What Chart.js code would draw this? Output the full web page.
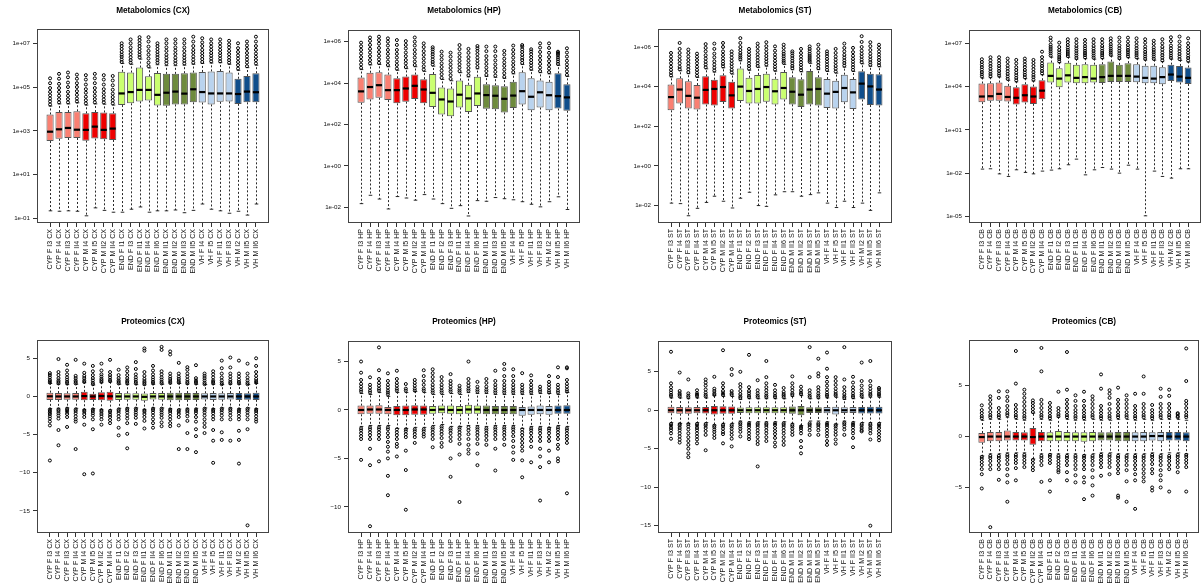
<!DOCTYPE html>
<html><head><meta charset="utf-8">
<script src="https://cdn.jsdelivr.net/npm/chart.js@4.4.1/dist/chart.umd.min.js"></script>
<style>
html,body{margin:0;padding:0;background:#fff;width:1202px;height:584px;overflow:hidden;position:relative}
canvas{position:absolute}
</style></head><body>
<script>
// ---------------- Metabolomics (CX) ----------------
const metCxLabels = ['CYP F I3 CX','CYP F I4 CX','CYP F II3 CX','CYP F II4 CX','CYP M I4 CX','CYP M I5 CX','CYP M II2 CX','CYP M II4 CX','END F I1 CX','END F I3 CX','END F II1 CX','END F II4 CX','END F II6 CX','END M II1 CX','END M II2 CX','END M II3 CX','END M II5 CX','VH F I4 CX','VH F I5 CX','VH F II1 CX','VH F II3 CX','VH M I2 CX','VH M II5 CX','VH M II6 CX'];
const metCxGroups = [4,4,5,4,4,3];
const metCxQ1 = [340,430,470,470,355,440,410,380,1.5e4,1.8e4,2.2e4,2.4e4,1.45e4,1.4e4,1.6e4,1.6e4,2e4,1.95e4,1.6e4,2.1e4,2.2e4,1.7e4,2e4,2e4];
const metCxMed = [910,1170,1350,1120,1100,1550,1100,1260,5.1e4,5.9e4,7.4e4,7.4e4,4.4e4,5.5e4,6.2e4,5e4,7.9e4,5.9e4,5.1e4,5.1e4,5.1e4,4.8e4,6.2e4,5.8e4];
const metCxQ3 = [5.6e3,7.2e3,7.2e3,7.8e3,6.3e3,7.2e3,6.9e3,6.3e3,5e5,4.6e5,7.8e5,3.1e5,4.4e5,4e5,4e5,4.3e5,4.6e5,4.9e5,5.2e5,5.4e5,4.6e5,2.4e5,3.2e5,4.3e5];
const metCxLo = [0.22,0.21,0.22,0.21,0.13,0.3,0.23,0.19,0.19,0.26,0.33,0.19,0.22,0.22,0.24,0.18,0.23,0.45,0.26,0.22,0.17,0.21,0.14,0.45];
const metCxHi = [1.35e4,1.7e4,1.7e4,1.9e4,1.5e4,1.7e4,1.65e4,1.5e4,1.2e6,1.1e6,1.9e6,7.5e5,1.05e6,9.5e5,9.5e5,1e6,1.1e6,1.2e6,1.25e6,1.3e6,1.1e6,5.8e5,7.7e5,1e6];
const metCxOut = [
 [1.6e4,2.2e4,3e4,4.2e4,6e4,9e4,1.5e5,2.5e5],[2e4,2.8e4,4e4,6e4,9e4,1.4e5,2.4e5,4e5],[2e4,2.8e4,4e4,6e4,1e5,1.6e5,2.8e5,4.6e5],[2.2e4,3e4,4.4e4,6.5e4,1e5,1.5e5,2.4e5,3.7e5],
 [1.8e4,2.5e4,3.6e4,5.5e4,8e4,1.3e5,2.2e5,3.5e5],[2e4,2.8e4,4e4,6e4,9e4,1.5e5,2.5e5,4e5],[2e4,2.7e4,3.8e4,5.5e4,8e4,1.3e5,2.2e5,3.5e5],[1.8e4,2.5e4,3.5e4,5e4,7.5e4,1.2e5,2e5,3.2e5],
 [1.4e6,1.8e6,2.4e6,3e6,4e6,5.5e6,7.5e6,1e7],[1.3e6,1.7e6,2.3e6,3.2e6,4.5e6,6.5e6,1e7,1.5e7],[2.3e6,3e6,4e6,5.5e6,7.5e6,1e7,1.4e7,1.9e7],[9e5,1.3e6,2e6,3e6,4.5e6,7e6,1.2e7,1.9e7],
 [1.3e6,1.7e6,2.3e6,3e6,4e6,5.5e6,7.5e6,1e7],[1.2e6,1.6e6,2.2e6,3e6,4.5e6,6.5e6,1e7,1.5e7],[1.2e6,1.6e6,2.2e6,3.2e6,4.6e6,6.5e6,1e7,1.5e7],[1.2e6,1.6e6,2.2e6,3e6,4.4e6,6.5e6,1e7,1.5e7],
 [1.3e6,1.8e6,2.5e6,3.6e6,5e6,7.5e6,1.2e7,2e7],[1.4e6,1.9e6,2.6e6,3.6e6,5e6,7.5e6,1.1e7,1.7e7],[1.5e6,2e6,2.7e6,3.6e6,5e6,7e6,1e7,1.5e7],[1.5e6,2e6,2.7e6,3.6e6,5e6,7e6,1e7,1.5e7],
 [1.3e6,1.7e6,2.3e6,3.2e6,4.5e6,6.5e6,9e6,1.3e7],[7e5,1e6,1.4e6,2e6,2.8e6,4e6,6e6,1e7],[9e5,1.3e6,1.8e6,2.5e6,3.6e6,5.5e6,8e6,1.2e7],[1.2e6,1.7e6,2.4e6,3.4e6,5e6,7.5e6,1.2e7,2e7]];
const metCxTicks = [1e-1,1e1,1e3,1e5,1e7];

// ---------------- Metabolomics (HP) ----------------
const metHpLabels = ['CYP F I3 HP','CYP F I4 HP','CYP F II3 HP','CYP F II4 HP','CYP M I4 HP','CYP M I5 HP','CYP M II2 HP','CYP M II4 HP','END F I1 HP','END F I2 HP','END F I3 HP','END F II1 HP','END F II4 HP','END F II6 HP','END M II1 HP','END M II3 HP','END M II5 HP','VH F I4 HP','VH F I5 HP','VH F II1 HP','VH F II3 HP','VH M I2 HP','VH M II5 HP','VH M II6 HP'];
const metHpGroups = [4,4,6,4,4,2];
const metHpQ1 = [1.12e3,1.62e3,1.95e3,1.51e3,1.05e3,1.26e3,1.7e3,1.05e3,710,300,250,660,400,780,575,550,380,620,930,490,660,490,590,457];
const metHpMed = [3.98e3,6.46e3,7.94e3,4.57e3,4.57e3,5.5e3,7.4e3,4.9e3,3.39e3,1.62e3,1.29e3,2.75e3,1.82e3,3.16e3,2.63e3,2.45e3,1.74e3,2.5e3,4.07e3,2.19e3,3.6e3,2.6e3,2.34e3,2.04e3];
const metHpQ3 = [1.86e4,3.16e4,3.3e4,2.6e4,1.74e4,2.1e4,2.6e4,1.55e4,2.75e4,6.2e3,5.5e3,1.35e4,8.3e3,2.04e4,8.9e3,7.9e3,7.1e3,1.15e4,3.3e4,1.74e4,1.35e4,1.15e4,3e4,8.7e3];
const metHpLo = [0.015,0.038,0.025,0.0083,0.033,0.028,0.022,0.041,0.025,0.015,0.0089,0.012,0.0038,0.021,0.0195,0.0295,0.026,0.023,0.0186,0.014,0.0105,0.0186,0.032,0.0078];
const metHpHi = [4.5e4,7.6e4,7.9e4,6.2e4,4.2e4,5e4,6.2e4,3.7e4,6.6e4,1.5e4,1.3e4,3.2e4,2e4,4.9e4,2.1e4,1.9e4,1.7e4,2.8e4,7.9e4,4.2e4,3.2e4,2.8e4,7.2e4,2.1e4];
const metHpOut = [
 [5.5e4,8e4,1.2e5,1.8e5,2.7e5,4e5,6e5,9e5],[9e4,1.3e5,2e5,3e5,4.5e5,7e5,1.1e6,1.6e6],[9.5e4,1.4e5,2.1e5,3.2e5,5e5,8e5,1.2e6,1.75e6],[7.5e4,1.1e5,1.7e5,2.6e5,4e5,6.5e5,1e6,1.45e6],
 [5e4,7.5e4,1.1e5,1.7e5,2.6e5,4e5,7e5,1.2e6],[6e4,9e4,1.3e5,2e5,3e5,4.7e5,7e5,1.07e6],[7.5e4,1.1e5,1.7e5,2.6e5,4e5,6.5e5,1e6,1.6e6],[4.5e4,6.5e4,1e5,1.5e5,2.3e5,3.5e5,5.5e5,8.3e5],
 [8e4,1.05e5,1.4e5,1.9e5,2.5e5,3.3e5,4.3e5,5.4e5],[1.8e4,2.7e4,4e4,6e4,9e4,1.4e5,2.1e5,3.3e5],[1.6e4,2.4e4,3.6e4,5.4e4,8e4,1.2e5,1.9e5,2.95e5],[3.8e4,5.6e4,8.2e4,1.2e5,1.8e5,2.7e5,4.4e5,6.9e5],
 [2.4e4,3.6e4,5.3e4,8e4,1.2e5,1.8e5,2.9e5,4.5e5],[5.9e4,8.5e4,1.2e5,1.7e5,2.5e5,3.6e5,4.8e5,6.2e5],[2.5e4,3.8e4,5.6e4,8.5e4,1.3e5,2e5,3.5e5,5.8e5],[2.3e4,3.5e4,5.3e4,8e4,1.25e5,2e5,3.5e5,5.8e5],
 [2e4,3e4,4.5e4,6.8e4,1e5,1.5e5,2.4e5,3.6e5],[3.4e4,5e4,7.5e4,1.1e5,1.7e5,2.6e5,4e5,6.5e5],[9.5e4,1.3e5,1.7e5,2.3e5,3.2e5,4.3e5,5.8e5,6.9e5],[5e4,7e4,9.5e4,1.3e5,1.8e5,2.5e5,3.4e5,4.3e5],
 [3.8e4,5.6e4,8.5e4,1.3e5,2e5,3.2e5,5.2e5,8.3e5],[3.4e4,5e4,7.5e4,1.15e5,1.8e5,2.9e5,5e5,8.3e5],[8.5e4,1.1e5,1.4e5,1.75e5,2.2e5,2.6e5,3e5,3.3e5],[2.5e4,3.7e4,5.5e4,8e4,1.2e5,1.9e5,3e5,4.8e5]];
const metHpTicks = [1e-2,1,1e2,1e4,1e6];

// ---------------- Metabolomics (ST) ----------------
const metStLabels = ['CYP F I3 ST','CYP F I4 ST','CYP F II3 ST','CYP F II4 ST','CYP M I4 ST','CYP M I5 ST','CYP M II2 ST','CYP M II4 ST','END F I1 ST','END F I2 ST','END F I3 ST','END F II1 ST','END F II4 ST','END F II6 ST','END M II1 ST','END M II2 ST','END M II3 ST','END M II5 ST','VH F I4 ST','VH F I5 ST','VH F II1 ST','VH F II3 ST','VH M I2 ST','VH M II5 ST','VH M II6 ST'];
const metStGroups = [4,4,6,4,4,3];
const metStQ1 = [630,1.41e3,780,690,1.23e3,1.1e3,1.66e3,780,1.86e3,1.38e3,1.38e3,1.74e3,1.26e3,2.2e3,1.26e3,930,1.26e3,1.1e3,830,780,1.62e3,740,2.2e3,1.17e3,1.12e3];
const metStMed = [2.95e3,7.1e3,3.4e3,2.75e3,6.8e3,7.6e3,9.5e3,3.6e3,1e4,6e3,7.6e3,9.5e3,5.8e3,8.5e3,5.5e3,3.9e3,7.1e3,7.6e3,4.4e3,5.4e3,8.5e3,5.1e3,1.41e4,1.02e4,7.1e3];
const metStQ3 = [1.29e4,2.63e4,1.86e4,1.2e4,3.3e4,2.24e4,3.7e4,1.78e4,8.3e4,2.8e4,3.9e4,4.5e4,2.5e4,5.5e4,2.95e4,2.34e4,6.2e4,3e4,2.4e4,2e4,4e4,2.4e4,5.9e4,4.4e4,4.2e4];
const metStLo = [0.013,0.0123,0.003,0.0071,0.0141,0.029,0.0162,0.0074,0.023,0.046,0.0098,0.0089,0.034,0.049,0.049,0.029,0.035,0.043,0.013,0.0078,0.0162,0.0078,0.013,0.0056,0.043];
const metStHi = [3.1e4,6.3e4,4.5e4,2.9e4,7.9e4,5.4e4,8.9e4,4.3e4,2e5,6.7e4,9.4e4,1.08e5,6e4,1.32e5,7.1e4,5.6e4,1.5e5,7.2e4,5.8e4,4.8e4,9.6e4,5.8e4,1.42e5,1.06e5,1e5];
const metStOut = [
 [3.7e4,5e4,7e4,1e5,1.5e5,2.2e5,3.3e5,5e5],[7.5e4,1e5,1.5e5,2.2e5,3.3e5,5e5,8e5,1.6e6],[5.4e4,7.5e4,1.05e5,1.5e5,2.2e5,3.3e5,5e5,7.4e5],[3.5e4,5e4,7e4,1e5,1.5e5,2.2e5,3.2e5,4.6e5],
 [9.5e4,1.3e5,1.8e5,2.6e5,3.8e5,6e5,9e5,1.4e6],[6.5e4,9e4,1.3e5,1.9e5,3e5,4.6e5,8e5,1.48e6],[1.05e5,1.4e5,1.9e5,2.7e5,4e5,6e5,1e6,1.6e6],[5.2e4,7e4,1e5,1.4e5,2e5,2.9e5,4.2e5,6e5],
 [2.4e5,3e5,3.8e5,5e5,7e5,1e6,1.6e6,2.8e6],[8e4,1.1e5,1.5e5,2.1e5,2.9e5,4e5,5.7e5,8e5],[1.1e5,1.5e5,2.1e5,3e5,4.3e5,6.5e5,1e6,1.48e6],[1.3e5,1.8e5,2.5e5,3.5e5,5e5,7.5e5,1.1e6,1.74e6],
 [7.2e4,1e5,1.4e5,2e5,2.9e5,4.2e5,6.5e5,1.07e6],[1.6e5,2e5,2.6e5,3.4e5,4.5e5,6e5,9e5,1.3e6],[8.5e4,1.1e5,1.5e5,2e5,2.7e5,3.6e5,4.8e5,6e5],[6.7e4,9e4,1.25e5,1.7e5,2.4e5,3.4e5,5e5,8e5],
 [1.8e5,2.2e5,2.8e5,3.5e5,4.5e5,6e5,8e5,1.07e6],[8.6e4,1.2e5,1.7e5,2.4e5,3.5e5,5.2e5,8e5,1.3e6],[7e4,9.5e4,1.3e5,1.8e5,2.5e5,3.4e5,4.6e5,6e5],[5.8e4,8e4,1.1e5,1.6e5,2.3e5,3.3e5,5e5,8e5],
 [1.15e5,1.55e5,2.1e5,2.9e5,4e5,6e5,9e5,1.48e6],[7e4,9.5e4,1.3e5,1.8e5,2.5e5,3.6e5,5.5e5,9e5],[1.7e5,2.3e5,3.2e5,4.5e5,6.5e5,1e6,1.8e6,3.5e6],[1.27e5,1.7e5,2.3e5,3.2e5,4.6e5,7e5,1.1e6,1.74e6],
 [1.2e5,1.6e5,2.2e5,3e5,4.2e5,6e5,9e5,1.3e6]];
const metStTicks = [1e-2,1,1e2,1e4,1e6];

// ---------------- Metabolomics (CB) ----------------
const metCbLabels = ['CYP F I3 CB','CYP F I4 CB','CYP F II3 CB','CYP F II4 CB','CYP M I4 CB','CYP M I5 CB','CYP M II2 CB','CYP M II4 CB','END F I1 CB','END F I2 CB','END F I3 CB','END F II1 CB','END F II4 CB','END F II6 CB','END M II1 CB','END M II2 CB','END M II3 CB','END M II5 CB','VH F I4 CB','VH F I5 CB','VH F II1 CB','VH F II3 CB','VH M I2 CB','VH M II5 CB','VH M II6 CB'];
const metCbGroups = [4,4,6,4,4,3];
const metCbQ1 = [830,1.02e3,1.02e3,910,560,780,630,1.32e3,1.9e4,8.9e3,1.9e4,1.7e4,1.7e4,1.9e4,1.78e4,2.1e4,2.1e4,2.1e4,2e4,1.7e4,1.7e4,1.45e4,2.45e4,1.9e4,1.5e4];
const metCbMed = [2.04e3,2.14e3,3.1e3,1.9e3,1.66e3,2.5e3,2.04e3,5.2e3,5.5e4,3.55e4,6e4,4e4,4.5e4,3.55e4,4.5e4,5.5e4,5.5e4,5.5e4,4.9e4,4e4,3.55e4,4.5e4,6.8e4,4.9e4,4e4];
const metCbQ3 = [1.62e4,1.7e4,1.9e4,1.12e4,8.9e3,1.45e4,1e4,2.75e4,4.6e5,1.86e5,4.4e5,3.2e5,3.55e5,3.3e5,3.55e5,5.4e5,3.2e5,4.2e5,3.55e5,2.8e5,2.8e5,2.2e5,3.3e5,2.7e5,2.1e5];
const metCbLo = [0.019,0.02,0.0089,0.0059,0.017,0.0112,0.0089,0.0138,0.0162,0.02,0.038,0.093,0.0076,0.017,0.0245,0.019,0.01,0.0355,0.019,1.1e-5,0.0138,0.0059,0.0045,0.02,0.02];
const metCbHi = [3.9e4,4.1e4,4.6e4,2.7e4,2.1e4,3.5e4,2.4e4,6.6e4,1.1e6,4.5e5,1.06e6,7.7e5,8.5e5,7.9e5,8.5e5,1.3e6,7.7e5,1e6,8.5e5,6.7e5,6.7e5,5.3e5,7.9e5,6.5e5,5e5];
const metCbOut = [
 [5e4,7e4,1e5,1.5e5,2.2e5,3.3e5,5e5,7.8e5],[5.2e4,7.5e4,1.1e5,1.7e5,2.6e5,4e5,6.5e5,1.07e6],[5.8e4,8e4,1.2e5,1.8e5,2.7e5,4.1e5,6.5e5,1.07e6],[3.4e4,5e4,7.5e4,1.15e5,1.8e5,2.8e5,5e5,8.7e5],
 [2.7e4,4e4,6e4,9e4,1.4e5,2.2e5,4e5,7e5],[4.4e4,6.5e4,9.5e4,1.4e5,2.2e5,3.4e5,5.5e5,8.7e5],[3e4,4.5e4,6.5e4,1e5,1.6e5,2.6e5,4.3e5,7e5],[8.2e4,1.2e5,1.8e5,2.7e5,4e5,6.5e5,1.1e6,2.6e6],
 [1.4e6,2e6,2.8e6,4e6,5.6e6,8e6,1.5e7,2.45e7],[5.6e5,8e5,1.1e6,1.6e6,2.3e6,3.4e6,5.5e6,1.1e7],[1.3e6,1.8e6,2.5e6,3.5e6,5e6,7.5e6,1.2e7,1.9e7],[9.6e5,1.4e6,2e6,3e6,4.4e6,6.5e6,1.1e7,1.9e7],
 [1.06e6,1.5e6,2.1e6,3e6,4.3e6,6.2e6,1e7,1.7e7],[1e6,1.4e6,2e6,2.9e6,4.3e6,6.5e6,1.1e7,1.9e7],[1.06e6,1.5e6,2.1e6,3e6,4.4e6,6.5e6,1.1e7,1.9e7],[1.6e6,2.2e6,3e6,4.2e6,6e6,8.5e6,1.4e7,2.2e7],
 [9.6e5,1.4e6,2e6,3e6,4.5e6,7e6,1.3e7,2.45e7],[1.25e6,1.7e6,2.4e6,3.4e6,5e6,7.5e6,1.3e7,2.45e7],[1.06e6,1.5e6,2.1e6,3e6,4.5e6,7e6,1.2e7,2.2e7],[8.4e5,1.2e6,1.7e6,2.5e6,3.8e6,6e6,1.1e7,1.9e7],
 [8.4e5,1.2e6,1.7e6,2.4e6,3.5e6,5.2e6,9e6,1.5e7],[6.6e5,1e6,1.5e6,2.3e6,3.6e6,5.6e6,1e7,1.9e7],[9.9e5,1.4e6,2e6,3e6,4.5e6,7e6,1.4e7,2.6e7],[8e5,1.2e6,1.8e6,2.8e6,4.3e6,7e6,1.3e7,2.9e7],
 [6.3e5,9.5e5,1.4e6,2.2e6,3.4e6,5.5e6,1e7,2.2e7]];
const metCbTicks = [1e-5,1e-2,1e1,1e4,1e7];

// ---------------- Proteomics (CX) ----------------
const protCxLabels = ['CYP F I3 CX','CYP F I4 CX','CYP F II3 CX','CYP F II4 CX','CYP M I4 CX','CYP M I5 CX','CYP M II2 CX','CYP M II4 CX','END F I1 CX','END F I2 CX','END F I3 CX','END F II1 CX','END F II4 CX','END F II6 CX','END M II1 CX','END M II2 CX','END M II3 CX','END M II5 CX','VH F I4 CX','VH F I5 CX','VH F II1 CX','VH F II3 CX','VH M I2 CX','VH M II5 CX','VH M II6 CX'];
const protCxGroups = [4,4,6,4,4,3];
const protCxQ1 = [-0.45,-0.45,-0.42,-0.42,-0.5,-0.45,-0.5,-0.55,-0.45,-0.42,-0.42,-0.55,-0.4,-0.42,-0.5,-0.5,-0.45,-0.45,-0.4,-0.45,-0.42,-0.4,-0.45,-0.42,-0.45];
const protCxMed = [0.02,0,0,0,0.05,0,0.05,0.02,0,0,0,-0.05,0,0,0,0,0,0,0,0,0,0,0,0,0];
const protCxQ3 = [0.5,0.45,0.42,0.45,0.6,0.35,0.55,0.6,0.45,0.42,0.42,0.4,0.45,0.45,0.48,0.5,0.45,0.45,0.42,0.45,0.42,0.45,0.45,0.42,0.5];
const protCxLo = [-1.6,-1.55,-1.5,-1.55,-1.7,-1.6,-1.7,-1.75,-1.55,-1.5,-1.5,-1.7,-1.5,-1.5,-1.6,-1.65,-1.55,-1.55,-1.5,-1.6,-1.5,-1.5,-1.6,-1.5,-1.6];
const protCxHi = [1.7,1.6,1.55,1.6,1.8,1.5,1.8,1.9,1.6,1.55,1.55,1.5,1.6,1.6,1.65,1.7,1.6,1.6,1.55,1.6,1.55,1.6,1.6,1.55,1.7];
const protCxOut = [
 [1.8,2.0,2.2,2.5,2.8,3.06,-1.7,-1.9,-2.1,-2.3,-2.6,-2.9,-3.3,-3.8,-8.4],[1.7,1.9,2.1,2.4,2.8,3.2,4.9,-1.7,-1.9,-2.2,-2.5,-2.9,-4.4,-6.4],
 [1.7,1.9,2.2,2.5,2.9,3.4,4.15,-1.6,-1.8,-2.0,-2.3,-2.7,-4.0],[1.7,1.9,2.1,2.4,2.7,4.8,-1.7,-1.9,-2.2,-2.6,-3.0,-3.3,-6.9],
 [1.9,2.1,2.4,2.7,3.1,4.3,-1.8,-2.0,-2.3,-2.7,-3.7,-10.2],[1.6,1.8,2.1,2.4,2.8,3.3,4.0,-1.7,-1.9,-2.2,-2.5,-3.0,-4.3,-10.1],
 [1.9,2.1,2.3,2.6,2.9,3.4,4.3,-1.8,-2.0,-2.3,-2.6,-3.0,-3.7],[2.0,2.2,2.5,2.8,3.2,4.8,-1.9,-2.1,-2.4,-2.7,-3.1,-3.5],
 [1.7,1.9,2.1,2.4,2.8,3.5,-1.7,-1.9,-2.2,-2.6,-3.0,-4.1,-5.1],[1.7,1.9,2.1,2.4,2.8,3.3,3.8,-1.6,-1.8,-2.1,-2.5,-2.9,-3.5,-4.9,-6.8],
 [1.7,1.9,2.2,2.5,2.9,3.6,4.5,-1.6,-1.8,-2.1,-2.4,-2.8,-3.6],[1.6,1.8,2.0,2.3,2.7,3.2,6.0,6.3,-1.8,-2.0,-2.3,-2.7,-3.2,-4.2],
 [1.7,1.9,2.2,2.5,2.9,3.4,4.0,-1.6,-1.8,-2.1,-2.5,-3.0,-3.5,-4.1],[1.7,1.9,2.2,2.5,2.9,3.3,6.1,6.5,-1.6,-1.8,-2.1,-2.4,-2.8,-3.4,-3.9],
 [1.8,2.0,2.3,2.6,3.0,5.5,5.9,-1.7,-1.9,-2.2,-2.6,-3.0,-3.5,-3.9],[1.8,2.0,2.3,2.6,3.0,4.4,-1.8,-2.0,-2.3,-2.7,-3.8,-6.9],
 [1.7,1.9,2.2,2.6,3.0,3.5,3.84,-1.7,-1.9,-2.2,-2.6,-3.2,-4.8,-6.9],[1.7,1.9,2.1,2.4,4.1,-1.7,-1.9,-2.2,-2.7,-3.3,-4.3,-5.2,-7.3],
 [1.6,1.8,2.1,2.4,2.7,3.0,-1.6,-1.8,-2.1,-2.5,-3.0,-3.5,-4.0,-4.8],[1.7,1.9,2.1,2.5,2.9,3.3,-1.7,-1.9,-2.2,-2.6,-3.0,-4.4,-5.8,-8.7],
 [1.6,1.8,2.1,2.5,3.0,3.7,4.7,-1.6,-1.8,-2.1,-2.5,-3.0,-4.7,-5.7],[1.7,1.9,2.2,2.6,3.0,3.8,5.1,-1.6,-1.8,-2.1,-2.5,-3.0,-5.8],
 [1.7,1.9,2.2,2.6,3.0,4.7,-1.7,-1.9,-2.2,-2.6,-3.0,-4.5,-5.7,-8.8],[1.6,1.8,2.1,2.5,3.0,4.3,-1.6,-1.8,-2.1,-2.5,-3.0,-4.3,-16.9],
 [1.8,2.0,2.3,2.7,3.2,4.0,5.0,-1.7,-1.9,-2.2,-2.6,-3.0,-3.3]];
const protCxTicks = [-15,-10,-5,0,5];

// ---------------- Proteomics (HP) ----------------
const protHpLabels = ['CYP F I3 HP','CYP F I4 HP','CYP F II3 HP','CYP F II4 HP','CYP M I4 HP','CYP M I5 HP','CYP M II2 HP','CYP M II4 HP','END F I1 HP','END F I2 HP','END F I3 HP','END F II1 HP','END F II4 HP','END F II6 HP','END M II1 HP','END M II3 HP','END M II5 HP','VH F I4 HP','VH F I5 HP','VH F II1 HP','VH F II3 HP','VH M I2 HP','VH M II5 HP','VH M II6 HP'];
const protHpGroups = [4,4,6,4,4,2];
const protHpQ1 = [-0.45,-0.4,-0.4,-0.45,-0.55,-0.55,-0.5,-0.5,-0.4,-0.35,-0.4,-0.45,-0.4,-0.4,-0.45,-0.45,-0.42,-0.45,-0.6,-0.5,-0.45,-0.5,-0.4,-0.4];
const protHpMed = [0,0.05,0.05,0,0,0,0.05,0.05,0,0.05,0,0,0.05,0.05,0,0,0,0,0,0,0,0,0,0];
const protHpQ3 = [0.45,0.45,0.5,0.3,0.42,0.45,0.5,0.45,0.4,0.45,0.45,0.4,0.55,0.45,0.45,0.4,0.42,0.4,0.3,0.35,0.45,0.4,0.45,0.5];
const protHpLo = [-1.7,-1.6,-1.6,-1.6,-1.9,-1.9,-1.8,-1.8,-1.6,-1.5,-1.7,-1.7,-1.6,-1.6,-1.7,-1.6,-1.6,-1.6,-1.9,-1.7,-1.7,-1.8,-1.6,-1.7];
const protHpHi = [1.7,1.6,1.8,1.4,1.8,1.8,1.9,1.8,1.6,1.6,1.7,1.6,1.8,1.7,1.7,1.6,1.6,1.6,1.6,1.6,1.7,1.7,1.6,1.8];
const protHpOut = [
 [1.9,2.1,2.4,2.7,3.1,3.85,5.0,-1.9,-2.1,-2.4,-2.7,-3.0,-5.15],[1.8,2.0,2.3,2.6,3.37,-1.8,-2.0,-2.3,-2.6,-3.0,-4.0,-5.7,-12.0],
 [2.0,2.2,2.5,2.8,3.2,4.1,6.46,-1.8,-2.0,-2.3,-2.6,-3.0,-5.3],[1.6,1.8,2.0,2.3,2.6,3.0,3.78,-1.8,-2.0,-2.4,-2.8,-3.3,-3.8,-4.3,-5.0,-6.8,-8.8],
 [2.0,2.2,2.5,2.8,3.2,4.05,-2.0,-2.3,-2.6,-3.0,-3.5,-3.8,-4.8],[2.0,2.2,2.68,-2.0,-2.2,-2.5,-2.8,-4.2,-6.2,-10.3],
 [2.0,2.2,2.5,2.8,3.1,-2.0,-2.2,-2.5,-2.8,-3.4],[2.0,2.2,2.6,3.0,3.5,4.1,-2.0,-2.2,-2.5,-2.75],
 [1.8,2.0,2.3,2.6,3.0,3.4,3.8,4.2,-1.8,-2.0,-2.3,-2.6,-3.0,-3.85],[1.8,2.0,2.3,2.6,3.0,3.4,-1.7,-1.9,-2.2,-2.5,-2.9,-3.4,-3.8],
 [1.9,2.1,2.4,2.7,3.0,3.7,-1.9,-2.1,-2.4,-2.8,-3.2,-5.0,-6.9],[1.8,2.0,2.2,2.5,-1.8,-2.0,-2.3,-2.6,-3.0,-3.5,-4.6,-9.5],
 [2.0,2.2,2.5,2.8,3.2,5.0,-1.8,-2.1,-2.5,-3.0,-3.6,-4.1,-4.5],[1.9,2.1,2.4,2.9,-1.8,-2.0,-2.3,-2.6,-3.0,-3.5,-4.5,-5.7],
 [1.9,2.1,2.4,2.8,3.2,-1.9,-2.1,-2.4,-2.7,-3.1,-3.6],[1.8,2.0,2.3,2.6,3.0,4.05,-1.8,-2.0,-2.3,-2.6,-3.0,-4.0,-6.25],
 [1.8,2.0,2.3,2.6,3.0,3.5,4.2,4.75,-1.8,-2.0,-2.3,-2.6,-3.0,-3.6],[1.8,2.0,2.3,2.6,3.0,3.5,4.2,-1.8,-2.0,-2.3,-2.7,-3.2,-3.8,-4.4,-5.15],
 [1.8,2.0,2.3,2.6,3.8,-2.0,-2.3,-2.6,-3.0,-3.4,-3.8,-4.2,-5.2,-6.95],[1.8,2.0,2.3,2.6,3.0,3.57,-1.9,-2.1,-2.4,-2.8,-3.2,-3.8,-5.4],
 [1.9,2.1,2.4,-1.9,-2.1,-2.4,-2.8,-3.2,-4.0,-4.8,-5.9,-9.35],[1.8,2.0,2.3,2.6,2.9,3.5,-1.9,-2.1,-2.4,-2.8,-3.2,-4.2,-5.4],
 [1.8,2.0,2.3,2.6,3.4,4.4,-1.8,-2.0,-2.3,-2.6,-3.0,-3.6,-4.0,-5.0,-5.3],[1.9,2.1,2.4,2.7,3.1,4.3,4.4,-1.9,-2.1,-2.4,-2.7,-3.0,-3.4,-8.6]];
const protHpTicks = [-10,-5,0,5];

// ---------------- Proteomics (ST) ----------------
const protStLabels = ['CYP F I3 ST','CYP F I4 ST','CYP F II3 ST','CYP F II4 ST','CYP M I4 ST','CYP M I5 ST','CYP M II2 ST','CYP M II4 ST','END F I1 ST','END F I2 ST','END F I3 ST','END F II1 ST','END F II4 ST','END F II6 ST','END M II1 ST','END M II2 ST','END M II3 ST','END M II5 ST','VH F I4 ST','VH F I5 ST','VH F II1 ST','VH F II3 ST','VH M I2 ST','VH M II5 ST','VH M II6 ST'];
const protStGroups = [4,4,6,4,4,3];
const protStQ1 = [-0.4,-0.45,-0.45,-0.4,-0.42,-0.55,-0.45,-0.45,-0.35,-0.38,-0.38,-0.38,-0.38,-0.38,-0.45,-0.65,-0.35,-0.35,-0.38,-0.55,-0.35,-0.35,-0.42,-0.42,-0.42];
const protStMed = [0,0,0,0,0,0,0,0,0,0,0,0,0,0,0,0,0,0,0,0,0,0,0,0,0];
const protStQ3 = [0.45,0.42,0.38,0.42,0.42,0.55,0.52,0.5,0.35,0.38,0.38,0.38,0.38,0.38,0.5,0.55,0.38,0.38,0.42,0.45,0.38,0.42,0.42,0.45,0.45];
const protStLo = [-1.6,-1.7,-1.7,-1.6,-1.6,-1.9,-1.7,-1.7,-1.4,-1.5,-1.5,-1.5,-1.5,-1.5,-1.7,-2.0,-1.4,-1.4,-1.5,-1.8,-1.4,-1.5,-1.6,-1.6,-1.6];
const protStHi = [1.6,1.6,1.5,1.6,1.6,1.9,1.8,1.8,1.4,1.5,1.5,1.5,1.5,1.5,1.8,1.9,1.5,1.5,1.6,1.7,1.4,1.5,1.6,1.7,1.7];
const protStOut = [
 [1.8,2.0,2.3,2.6,3.0,3.5,7.6,-1.8,-2.0,-2.3,-2.6,-3.0,-3.7],[1.8,2.0,2.2,2.5,4.9,-1.8,-2.0,-2.3,-2.6,-3.0,-3.4,-3.8,-4.2],
 [1.7,1.9,2.2,4.0,-1.8,-2.1,-2.5,-3.0,-3.5,-4.0,-4.5,-5.0,-5.6,-6.1],[1.8,2.0,2.2,2.6,-1.8,-2.0,-2.3,-2.6,-3.0,-3.4,-3.8,-4.3],
 [1.8,2.0,2.3,2.7,3.2,3.6,4.0,-1.8,-2.0,-2.3,-2.7,-3.2,-5.2],[2.0,2.2,2.5,2.8,4.35,-2.0,-2.2,-2.5,-2.8,-3.2,-3.6],
 [2.0,2.2,2.5,3.0,3.5,7.8,-1.9,-2.1,-2.4,-2.8,-3.1,-4.3],[2.0,2.2,2.5,4.6,5.35,-1.9,-2.1,-2.4,-2.8,-3.2,-3.7,-4.7],
 [1.6,1.8,2.1,2.5,3.0,3.4,5.0,-1.6,-1.8,-2.1,-2.4,-2.8,-3.4],[1.7,1.9,2.2,2.5,3.0,7.2,-1.7,-1.9,-2.2,-2.6,-3.0,-3.4,-3.75],
 [1.7,1.9,2.2,2.6,3.9,-1.7,-1.9,-2.2,-2.6,-3.0,-3.5,-4.0,-4.4,-7.3],[1.7,1.9,2.2,2.6,3.0,3.5,4.3,6.4,-1.7,-1.9,-2.2,-2.6,-3.0,-3.5,-4.0],
 [1.7,1.9,2.2,2.6,3.3,-1.7,-1.9,-2.3,-2.7,-3.1,-3.6,-4.2,-4.7],[1.7,1.9,2.1,2.4,2.9,-1.7,-1.9,-2.2,-2.6,-3.0,-3.5,-4.0,-4.5],
 [2.0,2.2,2.6,3.0,3.5,4.4,-1.9,-2.1,-2.4,-2.8,-3.2],[2.1,2.3,2.6,3.06,-2.1,-2.3,-2.6,-3.0,-4.0,-4.8,-5.6],
 [1.7,1.9,2.2,2.6,4.3,8.2,-1.7,-1.9,-2.2,-2.6,-3.2],[1.7,1.9,2.2,2.6,3.0,4.4,4.8,6.7,-1.7,-1.9,-2.2,-2.6,-3.2],
 [1.8,2.0,2.3,2.7,3.2,3.7,4.3,5.4,7.5,-1.7,-1.9,-2.2,-2.6,-3.0,-3.4,-4.0,-4.5],[1.9,2.1,2.4,2.8,3.3,3.8,4.3,-1.9,-2.1,-2.4,-2.8,-3.2,-3.8,-4.35],
 [1.6,1.8,2.1,2.5,3.0,4.0,8.2,-1.6,-1.8,-2.1,-2.5,-3.2],[1.7,1.9,2.2,2.6,3.0,3.6,4.35,-1.7,-1.9,-2.2,-2.6,-3.0,-3.6,-4.8],
 [1.8,2.0,2.3,2.7,3.2,3.8,6.2,-1.8,-2.0,-2.3,-2.6,-2.75],[1.9,2.1,2.4,2.8,3.2,3.8,6.4,-1.8,-2.0,-2.3,-2.6,-3.0,-3.8,-15.0],
 [1.9,2.1,2.4,2.7,2.9,-1.8,-2.0,-2.3,-2.7,-3.1,-3.5,-3.9]];
const protStTicks = [-15,-10,-5,0,5];

// ---------------- Proteomics (CB) ----------------
const protCbLabels = ['CYP F I3 CB','CYP F I4 CB','CYP F II3 CB','CYP F II4 CB','CYP M I4 CB','CYP M I5 CB','CYP M II2 CB','CYP M II4 CB','END F I1 CB','END F I2 CB','END F I3 CB','END F II1 CB','END F II4 CB','END F II6 CB','END M II1 CB','END M II2 CB','END M II3 CB','END M II5 CB','VH F I4 CB','VH F I5 CB','VH F II1 CB','VH F II3 CB','VH M I2 CB','VH M II5 CB','VH M II6 CB'];
const protCbGroups = [4,4,6,4,4,3];
const protCbQ1 = [-0.6,-0.45,-0.45,-0.4,-0.4,-0.4,-0.8,-0.45,-0.45,-0.45,-0.45,-0.45,-0.5,-0.45,-0.4,-0.4,-0.45,-0.45,-0.45,-0.45,-0.4,-0.45,-0.4,-0.4,-0.45];
const protCbMed = [-0.05,0,0,0,0,0,-0.05,0,0,0,0,0,0,0,0,0,0,0,0,0,0.05,0.05,0,0,0];
const protCbQ3 = [0.35,0.45,0.45,0.6,0.45,0.42,0.85,0.45,0.42,0.55,0.45,0.42,0.42,0.45,0.42,0.42,0.45,0.45,0.42,0.45,0.42,0.45,0.45,0.45,0.42];
const protCbLo = [-1.9,-1.7,-1.7,-1.6,-1.6,-1.6,-2.2,-1.7,-1.7,-1.7,-1.7,-1.7,-1.8,-1.7,-1.6,-1.6,-1.7,-1.7,-1.7,-1.7,-1.6,-1.7,-1.6,-1.6,-1.7];
const protCbHi = [1.6,1.7,1.7,1.9,1.7,1.6,2.3,1.7,1.6,1.9,1.7,1.6,1.6,1.7,1.6,1.6,1.7,1.7,1.6,1.7,1.6,1.7,1.7,1.7,1.6];
const protCbOut = [
 [1.8,2.0,2.3,2.6,3.06,-2.0,-2.2,-2.5,-2.8,-3.2,-3.7,-5.1],[1.9,2.1,2.4,2.8,3.2,3.6,3.95,-1.9,-2.1,-2.4,-2.8,-3.2,-8.9],
 [1.9,2.1,2.4,2.8,3.8,4.44,-1.9,-2.1,-2.4,-2.8,-3.2,-4.25],[2.1,2.3,2.6,3.0,3.5,3.9,4.44,-1.8,-2.0,-2.3,-2.7,-3.2,-3.8,-4.5,-6.4],
 [1.9,2.1,2.4,2.7,3.1,5.2,8.4,-1.8,-2.0,-2.3,-2.6,-3.1,-4.3],[1.8,2.0,2.3,2.6,3.0,3.4,3.8,4.2,4.6,-1.8,-2.0,-2.3,-2.6,-3.0],
 [2.4,2.7,3.0,3.3,3.55,-2.3,-2.6,-3.0,-3.3],[1.9,2.1,2.4,2.8,3.2,3.6,6.4,8.7,-1.9,-2.1,-2.4,-2.8,-4.45],
 [1.8,2.0,2.3,2.6,2.9,3.3,-1.8,-2.0,-2.3,-2.6,-4.3,-5.4],[2.0,2.2,2.5,2.8,4.4,-1.9,-2.1,-2.4,-2.7,-3.0,-3.3,-3.5],
 [1.9,2.1,2.4,2.8,3.2,3.6,4.6,8.3,-1.9,-2.1,-2.4,-2.8,-3.5,-4.3],[1.8,2.0,2.3,2.6,3.0,3.5,4.05,-1.9,-2.1,-2.4,-2.8,-3.2,-3.8,-4.5],
 [1.8,2.0,2.3,2.6,3.0,3.5,4.4,-1.9,-2.1,-2.4,-2.8,-3.2,-4.0,-4.5,-6.15],[1.9,2.1,2.4,2.8,3.2,3.6,3.95,-1.9,-2.1,-2.4,-2.8,-3.3,-4.0,-4.8,-5.8],
 [1.8,2.0,2.3,2.6,3.0,4.7,6.1,-1.8,-2.0,-2.3,-2.6,-3.0,-3.85],[1.8,2.0,2.3,2.7,3.2,3.8,4.2,4.55,-1.8,-2.0,-2.3,-2.6,-3.0,-3.7],
 [1.9,2.1,2.4,2.8,3.2,3.6,4.8,-1.9,-2.1,-2.4,-2.8,-3.2,-3.6,-5.8,-6.0],[1.9,2.1,2.4,2.8,3.2,3.6,4.05,-1.9,-2.1,-2.4,-2.8,-3.3,-4.4,-6.4],
 [1.8,2.0,2.3,2.6,3.0,4.2,-1.9,-2.1,-2.4,-2.8,-3.2,-3.7,-4.3,-7.1],[1.9,2.1,2.4,2.8,3.2,4.2,5.9,-1.9,-2.1,-2.4,-2.8,-3.2,-3.6,-4.0,-4.4],
 [1.8,2.0,2.3,2.6,3.1,-1.8,-2.0,-2.3,-2.7,-3.2,-3.6,-5.0,-5.3],[1.9,2.1,2.4,2.8,3.2,3.9,4.7,-1.9,-2.1,-2.4,-2.8,-3.3,-3.8,-4.3,-5.0],
 [1.9,2.1,2.4,2.8,3.2,4.0,4.6,-1.9,-2.1,-2.4,-2.8,-3.2,-5.4],[1.9,2.0,2.2,2.3,-1.8,-2.0,-2.3,-2.6,-3.0,-3.5],
 [1.9,2.1,2.4,2.8,3.2,3.5,5.45,8.65,-1.8,-2.0,-2.3,-2.6,-3.0,-5.4]];
const protCbTicks = [-5,0,5];

// ---------------- rendering ----------------
const FONT = '"Liberation Sans", Arial, Helvetica, sans-serif';
const PALETTE = ['#FA8072','#EE0000','#CAFF70','#6E8B3D','#B9D3EE','#104E8B'];
function groupColors(groups){ const c=[]; groups.forEach((n,g)=>{ for(let k=0;k<n;k++) c.push(PALETTE[g]); }); return c; }
function logLabel(v){ const e=Math.round(Math.log10(v)); const a=Math.abs(e); return '1e'+(e<0?'-':'+')+(a<10?'0':'')+a; }
function linLabel(v){ return v<0 ? '\u2212'+Math.abs(v) : String(v); }

const panels = [
 {title:'Metabolomics (CX)', log:true, labels:metCxLabels, groups:metCxGroups, q1:metCxQ1, med:metCxMed, q3:metCxQ3, lo:metCxLo, hi:metCxHi, out:metCxOut, ticks:metCxTicks, ymin:0.061, ymax:4.5e7, frame:{l:37,r:269,t:29,b:223}, row:0},
 {title:'Metabolomics (HP)', log:true, labels:metHpLabels, groups:metHpGroups, q1:metHpQ1, med:metHpMed, q3:metHpQ3, lo:metHpLo, hi:metHpHi, out:metHpOut, ticks:metHpTicks, ymin:1.74e-3, ymax:3.68e6, frame:{l:348,r:580,t:30,b:223}, row:0},
 {title:'Metabolomics (ST)', log:true, labels:metStLabels, groups:metStGroups, q1:metStQ1, med:metStMed, q3:metStQ3, lo:metStLo, hi:metStHi, out:metStOut, ticks:metStTicks, ymin:1.29e-3, ymax:8.1e6, frame:{l:658,r:892,t:29,b:223}, row:0},
 {title:'Metabolomics (CB)', log:true, labels:metCbLabels, groups:metCbGroups, q1:metCbQ1, med:metCbMed, q3:metCbQ3, lo:metCbLo, hi:metCbHi, out:metCbOut, ticks:metCbTicks, ymin:3.5e-6, ymax:8.3e7, frame:{l:969,r:1201,t:30,b:223}, row:0},
 {title:'Proteomics (CX)', log:false, labels:protCxLabels, groups:protCxGroups, q1:protCxQ1, med:protCxMed, q3:protCxQ3, lo:protCxLo, hi:protCxHi, out:protCxOut, ticks:protCxTicks, ymin:-17.9, ymax:7.4, frame:{l:37,r:269,t:340,b:533}, row:1},
 {title:'Proteomics (HP)', log:false, labels:protHpLabels, groups:protHpGroups, q1:protHpQ1, med:protHpMed, q3:protHpQ3, lo:protHpLo, hi:protHpHi, out:protHpOut, ticks:protHpTicks, ymin:-12.7, ymax:7.12, frame:{l:348,r:580,t:341,b:533}, row:1},
 {title:'Proteomics (ST)', log:false, labels:protStLabels, groups:protStGroups, q1:protStQ1, med:protStMed, q3:protStQ3, lo:protStLo, hi:protStHi, out:protStOut, ticks:protStTicks, ymin:-15.95, ymax:9.0, frame:{l:658,r:892,t:341,b:533}, row:1},
 {title:'Proteomics (CB)', log:false, labels:protCbLabels, groups:protCbGroups, q1:protCbQ1, med:protCbMed, q3:protCbQ3, lo:protCbLo, hi:protCbHi, out:protCbOut, ticks:protCbTicks, ymin:-9.47, ymax:9.48, frame:{l:969,r:1199,t:340,b:533}, row:1}
];

const framePlugin = {id:'frame', afterDraw(chart){
  const a=chart.chartArea, c=chart.ctx; c.save(); c.strokeStyle='#444'; c.lineWidth=1;
  c.strokeRect(Math.round(a.left)+0.5, Math.round(a.top)+0.5, Math.round(a.right-a.left)-1, Math.round(a.bottom-a.top)-1);
  c.restore(); }};

function boxPlugin(p){ return {id:'boxwhisk',
  beforeDatasetsDraw(chart){
    const xs=chart.scales.x, ys=chart.scales.y, c=chart.ctx;
    const u=xs.getPixelForValue(2)-xs.getPixelForValue(1);
    c.save(); c.strokeStyle='#111'; c.lineWidth=0.9;
    p.q1.forEach((q,i)=>{
      const x=Math.round(xs.getPixelForValue(i+1))+0.5;
      const yq1=ys.getPixelForValue(q), yq3=ys.getPixelForValue(p.q3[i]);
      const ylo=ys.getPixelForValue(p.lo[i]), yhi=ys.getPixelForValue(p.hi[i]);
      c.setLineDash([2,2]); c.beginPath(); c.moveTo(x,yq3); c.lineTo(x,yhi); c.moveTo(x,yq1); c.lineTo(x,ylo); c.stroke();
      c.setLineDash([]); c.beginPath(); c.moveTo(x-0.2*u,yhi); c.lineTo(x+0.2*u,yhi); c.moveTo(x-0.2*u,ylo); c.lineTo(x+0.2*u,ylo); c.stroke();
    });
    c.restore();
  },
  afterDatasetsDraw(chart){
    const xs=chart.scales.x, ys=chart.scales.y, c=chart.ctx;
    const u=xs.getPixelForValue(2)-xs.getPixelForValue(1);
    c.save(); c.strokeStyle='#000'; c.lineWidth=2.2;
    p.med.forEach((m,i)=>{
      const x=xs.getPixelForValue(i+1), y=ys.getPixelForValue(m);
      c.beginPath(); c.moveTo(x-0.4*u+0.5,y); c.lineTo(x+0.4*u-0.5,y); c.stroke();
    });
    c.restore();
  }}; }

panels.forEach(p=>{
  const rowTop = p.row===0 ? 0 : 290, H = p.row===0 ? 290 : 294;
  const titleY = p.row===0 ? 11 : 322;
  const w = p.frame.r - p.frame.l, W = 37 + w + 40;
  const cv = document.createElement('canvas');
  cv.width=W; cv.height=H;
  cv.style.left=(p.frame.l-37)+'px'; cv.style.top=rowTop+'px'; cv.style.width=W+'px'; cv.style.height=H+'px';
  document.body.appendChild(cv);
  const n = p.labels.length;
  const colors = groupColors(p.groups);
  const boxData = p.q1.map((v,i)=>({x:i+1, y:[v, p.q3[i]]}));
  const outData = []; p.out.forEach((arr,i)=>arr.forEach(v=>outData.push({x:i+1, y:v})));
  const tTop = titleY - rowTop - 5;
  const tBottom = (p.frame.t - rowTop) - tTop - 10;
  new Chart(cv, {
    type:'bar',
    data:{datasets:[
      {type:'bar', data:boxData, backgroundColor:colors, borderColor:'#555', borderWidth:1, borderSkipped:false, categoryPercentage:1, barPercentage:0.8, order:2},
      {type:'scatter', data:outData, pointRadius:1.5, pointBorderWidth:1, pointBorderColor:'#000', pointBackgroundColor:'rgba(0,0,0,0)', showLine:false, order:1}
    ]},
    options:{
      responsive:false, animation:false, devicePixelRatio:1, events:[],
      layout:{padding:{left:0, right:40, top:0, bottom:0}},
      plugins:{
        legend:{display:false}, tooltip:{enabled:false},
        title:{display:true, text:p.title, fullSize:false, color:'#000', font:{family:FONT, size:8.2, weight:'bold', lineHeight:'10px'}, padding:{top:tTop, bottom:tBottom}}
      },
      scales:{
        x:{type:'linear', min:0.5-0.04*n, max:n+0.5+0.04*n, offset:false, bounds:'data',
           grid:{display:true, drawOnChartArea:false, drawTicks:true, tickLength:4, color:'#333', offset:false},
           border:{display:false},
           afterBuildTicks:s=>{ s.ticks = p.labels.map((_,i)=>({value:i+1})); },
           afterFit:s=>{ s.height = H-(p.frame.b-rowTop); s.paddingLeft=0; s.paddingRight=0; },
           ticks:{autoSkip:false, maxRotation:90, minRotation:90, padding:2, color:'#111', font:{family:FONT, size:7.1}, callback:(v,i)=>p.labels[i]}},
        y:{type:p.log?'logarithmic':'linear', min:p.ymin, max:p.ymax, bounds:'data',
           grid:{display:true, drawOnChartArea:false, drawTicks:true, tickLength:4, color:'#333'},
           border:{display:false},
           afterBuildTicks:s=>{ s.ticks = p.ticks.map(v=>({value:v})); },
           afterFit:s=>{ s.width = 37; s.paddingTop=0; s.paddingBottom=0; },
           ticks:{autoSkip:false, padding:3, color:'#111', font:{family:FONT, size:6.2}, callback:v=> p.log ? logLabel(v) : linLabel(v)}}
      }
    },
    plugins:[boxPlugin(p), framePlugin]
  });
});
</script>
</body></html>
